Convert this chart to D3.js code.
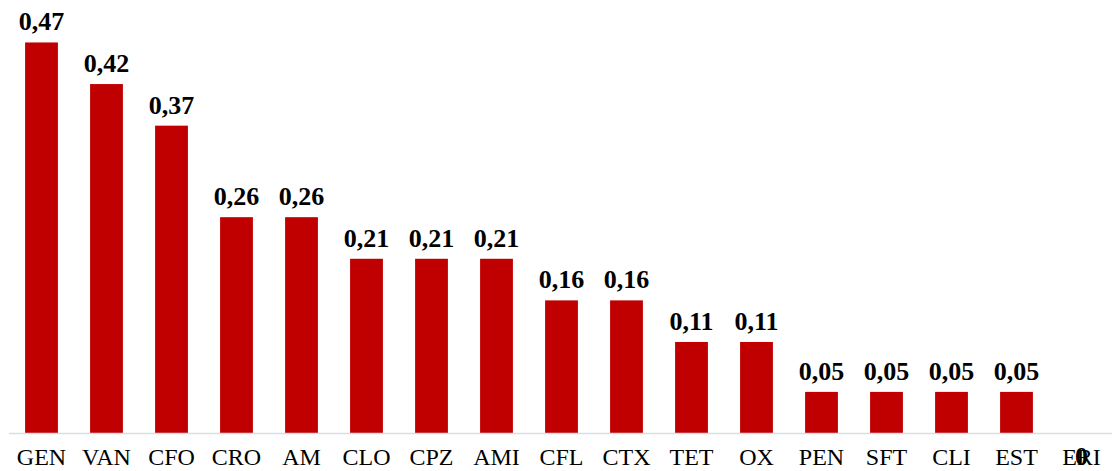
<!DOCTYPE html>
<html>
<head>
<meta charset="utf-8">
<script src="https://cdn.jsdelivr.net/npm/d3@7"></script>
<style>
  html, body { margin: 0; padding: 0; background: #fff; }
  svg { display: block; }
</style>
</head>
<body>
<svg id="chart" width="1112" height="471"></svg>
<script>
// Categories and their values
const categories = ["GEN", "VAN", "CFO", "CRO", "AM", "CLO", "CPZ", "AMI", "CFL", "CTX", "TET", "OX", "PEN", "SFT", "CLI", "EST", "ERI"];
const values = [0.47, 0.42, 0.37, 0.26, 0.26, 0.21, 0.21, 0.21, 0.16, 0.16, 0.11, 0.11, 0.05, 0.05, 0.05, 0.05, 0];

const W = 1112, H = 471;
const baseY = 433.5;
const left = 9, step = 65;

const svg = d3.select("#chart");

const x = d3.scaleBand()
  .domain(categories)
  .range([left, left + step * categories.length])
  .paddingInner(0.495)
  .paddingOuter(0.2475);

const y = d3.scaleLinear()
  .domain([0, 0.5])
  .range([baseY, baseY - 416]);

const fmt = v => d3.format(".2f")(v).replace(".", ",");
const fmtLabel = v => v === 0 ? "0" : fmt(v);

// Bars
svg.append("g")
  .selectAll("rect")
  .data(values)
  .join("rect")
  .attr("x", (d, i) => x(categories[i]))
  .attr("y", d => y(d))
  .attr("width", x.bandwidth())
  .attr("height", d => baseY - y(d))
  .attr("fill", "#c00000");

// Category axis
const xAxis = d3.axisBottom(x).tickSize(0).tickPadding(0);
const gx = svg.append("g")
  .attr("transform", `translate(0,${baseY})`)
  .call(xAxis);
gx.select(".domain").remove();
gx.append("line")
  .attr("x1", left).attr("x2", W)
  .attr("y1", 0).attr("y2", 0)
  .attr("stroke", "#d9dde3")
  .attr("stroke-width", 1.5);
gx.selectAll(".tick text")
  .attr("y", 31)
  .attr("dy", 0)
  .attr("fill", "#000")
  .style("font-family", "'Liberation Serif', 'Times New Roman', serif")
  .style("font-size", "24px");

// Value labels
svg.append("g")
  .selectAll("text")
  .data(values)
  .join("text")
  .attr("x", (d, i) => x(categories[i]) + x.bandwidth() / 2)
  .attr("y", d => d === 0 ? baseY + 31 : y(d) - 12)
  .attr("text-anchor", "middle")
  .attr("fill", "#000")
  .style("font-family", "'Liberation Serif', 'Times New Roman', serif")
  .style("font-size", "26px")
  .style("font-weight", "bold")
  .text(d => fmtLabel(d));
</script>
</body>
</html>
